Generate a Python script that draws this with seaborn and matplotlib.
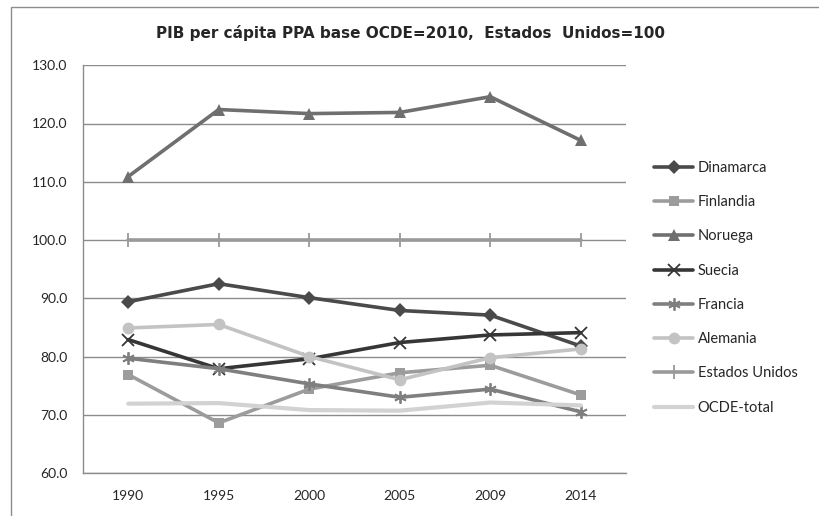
import matplotlib
matplotlib.use("Agg")
import matplotlib.pyplot as plt
import seaborn as sns
import pandas as pd
from matplotlib.patches import Rectangle

years = ["1990", "1995", "2000", "2005", "2009", "2014"]
dinamarca = [89.4, 92.5, 90.1, 87.9, 87.1, 81.8]
finlandia = [76.9, 68.6, 74.4, 77.2, 78.5, 73.4]
noruega = [110.9, 122.4, 121.7, 121.9, 124.6, 117.1]
suecia = [82.9, 77.9, 79.6, 82.4, 83.7, 84.1]
francia = [79.7, 77.9, 75.3, 73.0, 74.4, 70.5]
alemania = [84.9, 85.5, 80.0, 76.0, 79.8, 81.3]
estados_unidos = [100.0, 100.0, 100.0, 100.0, 100.0, 100.0]
ocde_total = [71.9, 72.0, 70.8, 70.7, 72.1, 71.6]

series_names = ["Dinamarca", "Finlandia", "Noruega", "Suecia", "Francia",
                "Alemania", "Estados Unidos", "OCDE-total"]
series_values = [dinamarca, finlandia, noruega, suecia, francia,
                 alemania, estados_unidos, ocde_total]

colors = {"Dinamarca": "#4a4a4a", "Finlandia": "#9c9c9c", "Noruega": "#6f6f6f",
          "Suecia": "#363636", "Francia": "#7f7f7f", "Alemania": "#c3c3c3",
          "Estados Unidos": "#9a9a9a", "OCDE-total": "#d2d2d2"}
markers = {"Dinamarca": "D", "Finlandia": "s", "Noruega": "^", "Suecia": "x",
           "Francia": (6, 2, 0), "Alemania": "o", "Estados Unidos": "|",
           "OCDE-total": ""}
msizes = {"Dinamarca": 7, "Finlandia": 7.5, "Noruega": 8, "Suecia": 9,
          "Francia": 9, "Alemania": 8.5, "Estados Unidos": 10, "OCDE-total": 0}

rows = []
for name, vals in zip(series_names, series_values):
    for i, (y, v) in enumerate(zip(years, vals)):
        rows.append({"pos": i, "year": y, "serie": name, "valor": v})
df = pd.DataFrame(rows)

sns.set_style("white")
plt.rcParams["font.family"] = ["Lato", "DejaVu Sans"]

fig = plt.figure(figsize=(8.19, 5.16), dpi=100)
ax = fig.add_axes([83/819, 1-473/516, (626-83)/819, (473-65.25)/516])

for name in series_names:
    sub = df[df["serie"] == name]
    mk = markers[name]
    kw = dict(marker=mk, markersize=msizes[name]) if mk else {}
    if mk in ("x", "|", (6, 2, 0)):
        kw["markeredgewidth"] = 1.3
        kw["markeredgecolor"] = colors[name]
    else:
        kw["markeredgewidth"] = 0
    lw = 3.0 if name == "OCDE-total" else 2.6
    sns.lineplot(data=sub, x="pos", y="valor", ax=ax, color=colors[name],
                 linewidth=lw, label=name, **kw)

ax.set_xlim(-0.5, 5.5)
ax.set_ylim(60, 130)
ax.set_yticks(range(60, 131, 10))
ax.set_yticklabels([f"{v:.1f}" for v in range(60, 131, 10)], fontsize=10)
ax.set_xticks(range(6))
ax.set_xticklabels(years, fontsize=10)
ax.set_xticks([i - 0.5 for i in range(7)], minor=True)
ax.tick_params(axis="x", which="major", length=0, pad=12)
ax.tick_params(axis="x", which="minor", length=5, width=1, color="#888888", direction="out")
ax.tick_params(axis="y", which="major", length=5, width=1, color="#888888", direction="out", pad=6)
ax.set_xlabel("")
ax.set_ylabel("")
ax.grid(axis="y", color="#8c8c8c", linewidth=1)
ax.grid(axis="x", visible=False)
ax.set_axisbelow(True)
for s in ["top", "right"]:
    ax.spines[s].set_visible(False)
for s in ["left", "bottom"]:
    ax.spines[s].set_color("#8c8c8c")
    ax.spines[s].set_linewidth(1)

handles, labels = ax.get_legend_handles_labels()
ax.get_legend().remove()
fig.legend(handles, labels, loc="upper left", bbox_to_anchor=(648/819, 1-155/516),
           frameon=False, fontsize=10.5, handlelength=2.7, handletextpad=0.3,
           labelspacing=1.39, borderaxespad=0)

fig.text(410/819, 1-33/516, "PIB per cápita PPA base OCDE=2010,  Estados  Unidos=100",
         ha="center", va="center", fontsize=11, fontweight="bold",
         family=["Liberation Sans Narrow", "DejaVu Sans"])

fig.add_artist(Rectangle((11/819, -0.05), 1.2, 1-7/516+0.05, transform=fig.transFigure,
                         fill=False, edgecolor="#8c8c8c", linewidth=1))

fig.savefig("out.png", dpi=100)
